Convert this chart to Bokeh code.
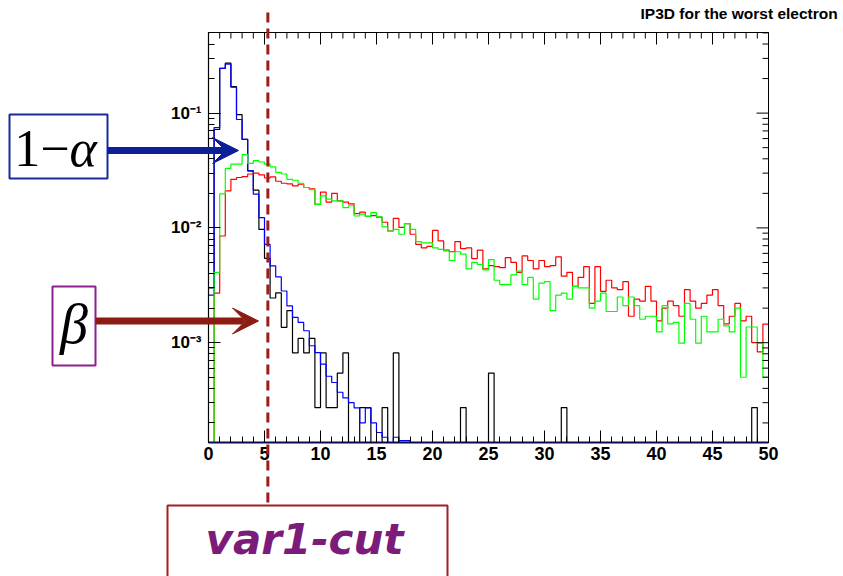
import math
import numpy as np
from bokeh.plotting import figure
from bokeh.models import (Range1d, FixedTicker, LinearAxis, LogAxis, Label, Arrow,
                          VeeHead, PolyAnnotation)
from bokeh.embed import file_html
from bokeh.resources import INLINE

# ---------------- data (100 bins of width 0.5 from 0 to 50) ----------------
bin_lo, bin_hi, n_bins = 0.0, 50.0, 100

black_vals = [
    0.0030, 0.072, 0.245, 0.273, 0.170, 0.097, 0.059, 0.0314, 0.0213, 0.0097,
    0.00543, 0.00245, 0.00272, 0.00136, 0.00190, 0.000815, 0.00109, 0.000815, 0.00109, 0.000272,
    0.000815, 0.000272, 0.000272, 0.000543, 0.000815, 0, 0, 0.000272, 0.000272, 0,
    0, 0.000272, 0, 0.000815, 0, 0, 0, 0, 0, 0,
    0, 0, 0, 0, 0, 0.000272, 0, 0, 0, 0,
    0.000543, 0, 0, 0, 0, 0, 0, 0, 0, 0,
    0, 0, 0, 0.000272, 0, 0, 0, 0, 0, 0,
    0, 0, 0, 0, 0, 0, 0, 0, 0, 0,
    0, 0, 0, 0, 0, 0, 0, 0, 0, 0,
    0, 0, 0, 0, 0, 0, 0, 0.000272, 0, 0,
]

blue_vals = [
    0.0026, 0.0748, 0.245, 0.267, 0.168, 0.088, 0.059, 0.0314, 0.0197, 0.0123,
    0.0072, 0.00467, 0.00374, 0.00282, 0.00209, 0.00166, 0.0015, 0.00127, 0.00094, 0.00082,
    0.00065, 0.00051, 0.00045, 0.00037, 0.00033, 0.0003, 0.00027, 0.0002, 0.00027, 0.0002,
    0.000165, 0.00015, 0, 0.00015, 0.00014, 0.00014, 0, 0, 0, 0,
    0, 0, 0, 0, 0, 0, 0, 0, 0, 0,
    0, 0, 0, 0, 0, 0, 0, 0, 0, 0,
    0, 0, 0, 0, 0, 0, 0, 0, 0, 0,
    0, 0, 0, 0, 0, 0, 0, 0, 0, 0,
    0, 0, 0, 0, 0, 0, 0, 0, 0, 0,
    0, 0, 0, 0, 0, 0, 0, 0, 0, 0,
]

red_vals = [
    0, 0.0027, 0.0085, 0.021, 0.0265, 0.0275, 0.028, 0.0295, 0.030, 0.029,
    0.0272, 0.0278, 0.0255, 0.0245, 0.0242, 0.0232, 0.024, 0.0225, 0.0219, 0.016,
    0.0205, 0.0168, 0.020, 0.0172, 0.0168, 0.0162, 0.0133, 0.0137, 0.0126, 0.0128,
    0.0124, 0.0112, 0.0094, 0.0121, 0.0101, 0.0109, 0.0088, 0.0072, 0.0067, 0.0069,
    0.0095, 0.0077, 0.0064, 0.0062, 0.0076, 0.0066, 0.0067, 0.0054, 0.0064, 0.0044,
    0.0047, 0.0046, 0.0045, 0.0055, 0.0050, 0.0041, 0.0057, 0.0052, 0.0044, 0.0052,
    0.0046, 0.0047, 0.0056, 0.0038, 0.0041, 0.0031, 0.0037, 0.0046, 0.0022, 0.0046,
    0.0028, 0.0035, 0.0030, 0.0029, 0.0034, 0.0017, 0.0024, 0.0023, 0.0031, 0.0023,
    0.00155, 0.0020, 0.0023, 0.0021, 0.0017, 0.0029, 0.0023, 0.0020, 0.0022, 0.0026,
    0.0029, 0.0021, 0.00146, 0.0017, 0.0022, 0.00155, 0.0017, 0.0010, 0.00083, 0.00145,
]

green_vals = [
    0, 0.0041, 0.0198, 0.033, 0.036, 0.036, 0.0435, 0.0365, 0.0385, 0.0375,
    0.036, 0.034, 0.0305, 0.0295, 0.0265, 0.026, 0.0245, 0.0225, 0.0215, 0.016,
    0.019, 0.0178, 0.0172, 0.0172, 0.015, 0.0156, 0.0127, 0.0132, 0.0126, 0.0136,
    0.0125, 0.0102, 0.0094, 0.0097, 0.0088, 0.0109, 0.0097, 0.0076, 0.0074, 0.0074,
    0.0067, 0.0065, 0.0063, 0.0052, 0.0062, 0.0059, 0.0044, 0.0050, 0.0048, 0.0043,
    0.0053, 0.0035, 0.0032, 0.0032, 0.0039, 0.0042, 0.0032, 0.0037, 0.0024, 0.0033,
    0.0034, 0.0019, 0.0026, 0.0027, 0.0024, 0.0031, 0.0030, 0.0030, 0.0020, 0.0023,
    0.0027, 0.00187, 0.00187, 0.0025, 0.0021, 0.0025, 0.0021, 0.0016, 0.0017, 0.0017,
    0.00124, 0.0021, 0.00146, 0.0015, 0.00099, 0.0022, 0.0016, 0.00099, 0.0017, 0.00124,
    0.00124, 0.0016, 0.0014, 0.00124, 0.0020, 0.0005, 0.00137, 0.00137, 0.00099, 0.0005,
]

x_major = [0, 5, 10, 15, 20, 25, 30, 35, 40, 45, 50]
y_major = [1e-3, 1e-2, 1e-1]
y_major_labels = ["10\u207b\u00b3", "10\u207b\u00b2", "10\u207b\u00b9"]
title_text = "IP3D for the worst electron"
cut_value = 5.3
label_alpha = ["1\u2212", "\u03b1"]
label_beta = "\u03b2"
label_cut = "var1-cut"

# ---------------- layout ----------------
# The Bokeh frame covers the whole canvas; the histogram frame (0..50 x 1.35e-4..0.504)
# sits at page pixels x 208..768, y 32..442 and the axes are pinned to its edges.
W, H = 843, 576
X0, X1 = 0.0, 50.0
Y0, Y1 = 1.35e-4, 0.504
FL, FT, FW, FH = 208, 32, 560, 410
MAJ, MIN = 12, 6


def px_x(px):
    return X0 + (px - FL) / FW * (X1 - X0)


def px_y(py):
    lt, lb = math.log10(Y1), math.log10(Y0)
    return 10 ** (lt - (py - FT) / FH * (lt - lb))


p = figure(frame_width=W, frame_height=H, min_border=0,
           x_range=Range1d(px_x(0), px_x(W)), y_range=Range1d(px_y(H), px_y(0)),
           y_axis_type="log", x_axis_location=None, y_axis_location=None,
           output_backend="svg", toolbar_location=None,
           background_fill_color="white", border_fill_color="white")
p.xgrid.visible = False
p.ygrid.visible = False
p.outline_line_color = None

x_minor = [v for v in range(0, 51) if v not in x_major]
y_minor = [k * 10.0 ** e for e in (-4, -3, -2, -1) for k in range(2, 10)
           if Y0 <= k * 10.0 ** e <= Y1]

# ---------------- histograms ----------------
edges = np.linspace(bin_lo, bin_hi, n_bins + 1)


def step_y(vals):
    v = [max(float(a), Y0) for a in vals]
    return v + [v[-1]]


p.step(edges, step_y(black_vals), mode="after", line_color="#000000", line_width=1.2)
p.step(edges, step_y(blue_vals), mode="after", line_color="#0000ff", line_width=1.2)
p.step(edges, step_y(red_vals), mode="after", line_color="#ff0000", line_width=1.2)
p.step(edges, step_y(green_vals), mode="after", line_color="#00ff00", line_width=1.2)

# ---------------- axes pinned to the histogram frame ----------------
xa = LinearAxis(fixed_location=Y0, bounds=(X0, X1),
                ticker=FixedTicker(ticks=x_major, minor_ticks=list(range(0, 51))))
xa.major_tick_in = MAJ
xa.major_tick_out = 0
xa.minor_tick_in = MIN
xa.minor_tick_out = 0
xa.major_tick_line_color = "black"
xa.minor_tick_line_color = "black"
xa.axis_line_color = "#0a0a50"
xa.axis_line_width = 2
xa.major_label_text_font = "Liberation Sans"
xa.major_label_text_font_style = "bold"
xa.major_label_text_font_size = "18px"
xa.major_label_text_color = "black"
xa.major_label_standoff = 4
p.add_layout(xa, "below")

ya = LogAxis(fixed_location=X0, bounds=(Y0, Y1),
             ticker=FixedTicker(ticks=y_major, minor_ticks=y_minor),
             major_label_overrides={t: s for t, s in zip(y_major, y_major_labels)})
ya.major_tick_in = MAJ
ya.major_tick_out = 0
ya.minor_tick_in = MIN
ya.minor_tick_out = 0
ya.major_tick_line_color = "black"
ya.minor_tick_line_color = "black"
ya.axis_line_color = "black"
ya.axis_line_width = 1.2
ya.major_label_text_font = "Liberation Sans"
ya.major_label_text_font_style = "bold"
ya.major_label_text_font_size = "17px"
ya.major_label_text_color = "black"
ya.major_label_standoff = 7
p.add_layout(ya, "left")

# top and right frame edges with inward ticks
p.quad(left=[X0], right=[X1], bottom=[Y0], top=[Y1], fill_alpha=0.0,
       line_color="black", line_width=1)
top_maj = px_y(FT + MAJ)
top_min = px_y(FT + MIN)
right_maj = px_x(FL + FW - MAJ)
right_min = px_x(FL + FW - MIN)
sx0, sy0, sx1, sy1 = [], [], [], []
for v in x_major:
    sx0.append(v); sy0.append(Y1); sx1.append(v); sy1.append(top_maj)
for v in x_minor:
    sx0.append(v); sy0.append(Y1); sx1.append(v); sy1.append(top_min)
for v in y_major:
    sx0.append(X1); sy0.append(v); sx1.append(right_maj); sy1.append(v)
for v in y_minor:
    sx0.append(X1); sy0.append(v); sx1.append(right_min); sy1.append(v)
p.segment(sx0, sy0, sx1, sy1, line_color="black", line_width=1)

# ---------------- title ----------------
p.add_layout(Label(x=px_x(640), y=px_y(13), text=title_text, text_align="left",
                   text_baseline="alphabetic", text_font="Liberation Sans",
                   text_font_style="bold", text_font_size="15.5px",
                   text_color="black"))

# ---------------- annotations ----------------
BLUE_A = "#0d1f96"
RED_A = "#8c1c13"
PURP = "#8e1e8e"
CUT_BOX = "#a02020"
CUT_TXT = "#7b1c7b"


def box(l, r, t, b, color):
    p.add_layout(PolyAnnotation(xs=[px_x(l), px_x(r), px_x(r), px_x(l)],
                                ys=[px_y(t), px_y(t), px_y(b), px_y(b)],
                                fill_alpha=0.0, line_color=color, line_alpha=1.0,
                                line_width=2))


# dashed cut line
p.add_layout(Arrow(x_start=cut_value, y_start=px_y(12), x_end=cut_value, y_end=px_y(505),
                   end=None, line_color="#9b1c1c", line_width=3, line_dash="10 6"))

# 1-alpha box + arrow
box(9, 107, 114, 178, "#1a2a9a")
p.add_layout(Label(x=px_x(69), y=px_y(148), text=label_alpha[0], text_align="right",
                   text_baseline="alphabetic", text_font="Liberation Serif",
                   text_font_size="52px", text_color="black"))
p.add_layout(Label(x=px_x(69), y=px_y(148), text=label_alpha[1], text_align="left",
                   text_baseline="alphabetic", text_font="Liberation Serif",
                   text_font_style="italic", text_font_size="52px",
                   text_color="black"))
p.add_layout(Arrow(x_start=px_x(107), y_start=px_y(150), x_end=px_x(238), y_end=px_y(150),
                   line_color=BLUE_A, line_width=7,
                   end=VeeHead(size=26, fill_color=BLUE_A, line_color=BLUE_A)))

# beta box + arrow
box(52, 95, 286, 365, PURP)
p.add_layout(Label(x=px_x(73.5), y=px_y(323), text=label_beta, text_align="center",
                   text_baseline="alphabetic", text_font="Liberation Serif",
                   text_font_style="italic", text_font_size="56px",
                   text_color="black"))
p.add_layout(Arrow(x_start=px_x(95), y_start=px_y(320.5), x_end=px_x(258), y_end=px_y(320.5),
                   line_color=RED_A, line_width=7,
                   end=VeeHead(size=26, fill_color=RED_A, line_color=RED_A)))

# var1-cut box
box(167, 447, 505, 620, CUT_BOX)
p.add_layout(Label(x=px_x(304), y=px_y(539), text=label_cut, text_align="center",
                   text_baseline="alphabetic", text_font="DejaVu Sans",
                   text_font_style="bold italic", text_font_size="42px",
                   text_color=CUT_TXT))

open("out.html", "w", encoding="utf-8").write(file_html(p, INLINE))
